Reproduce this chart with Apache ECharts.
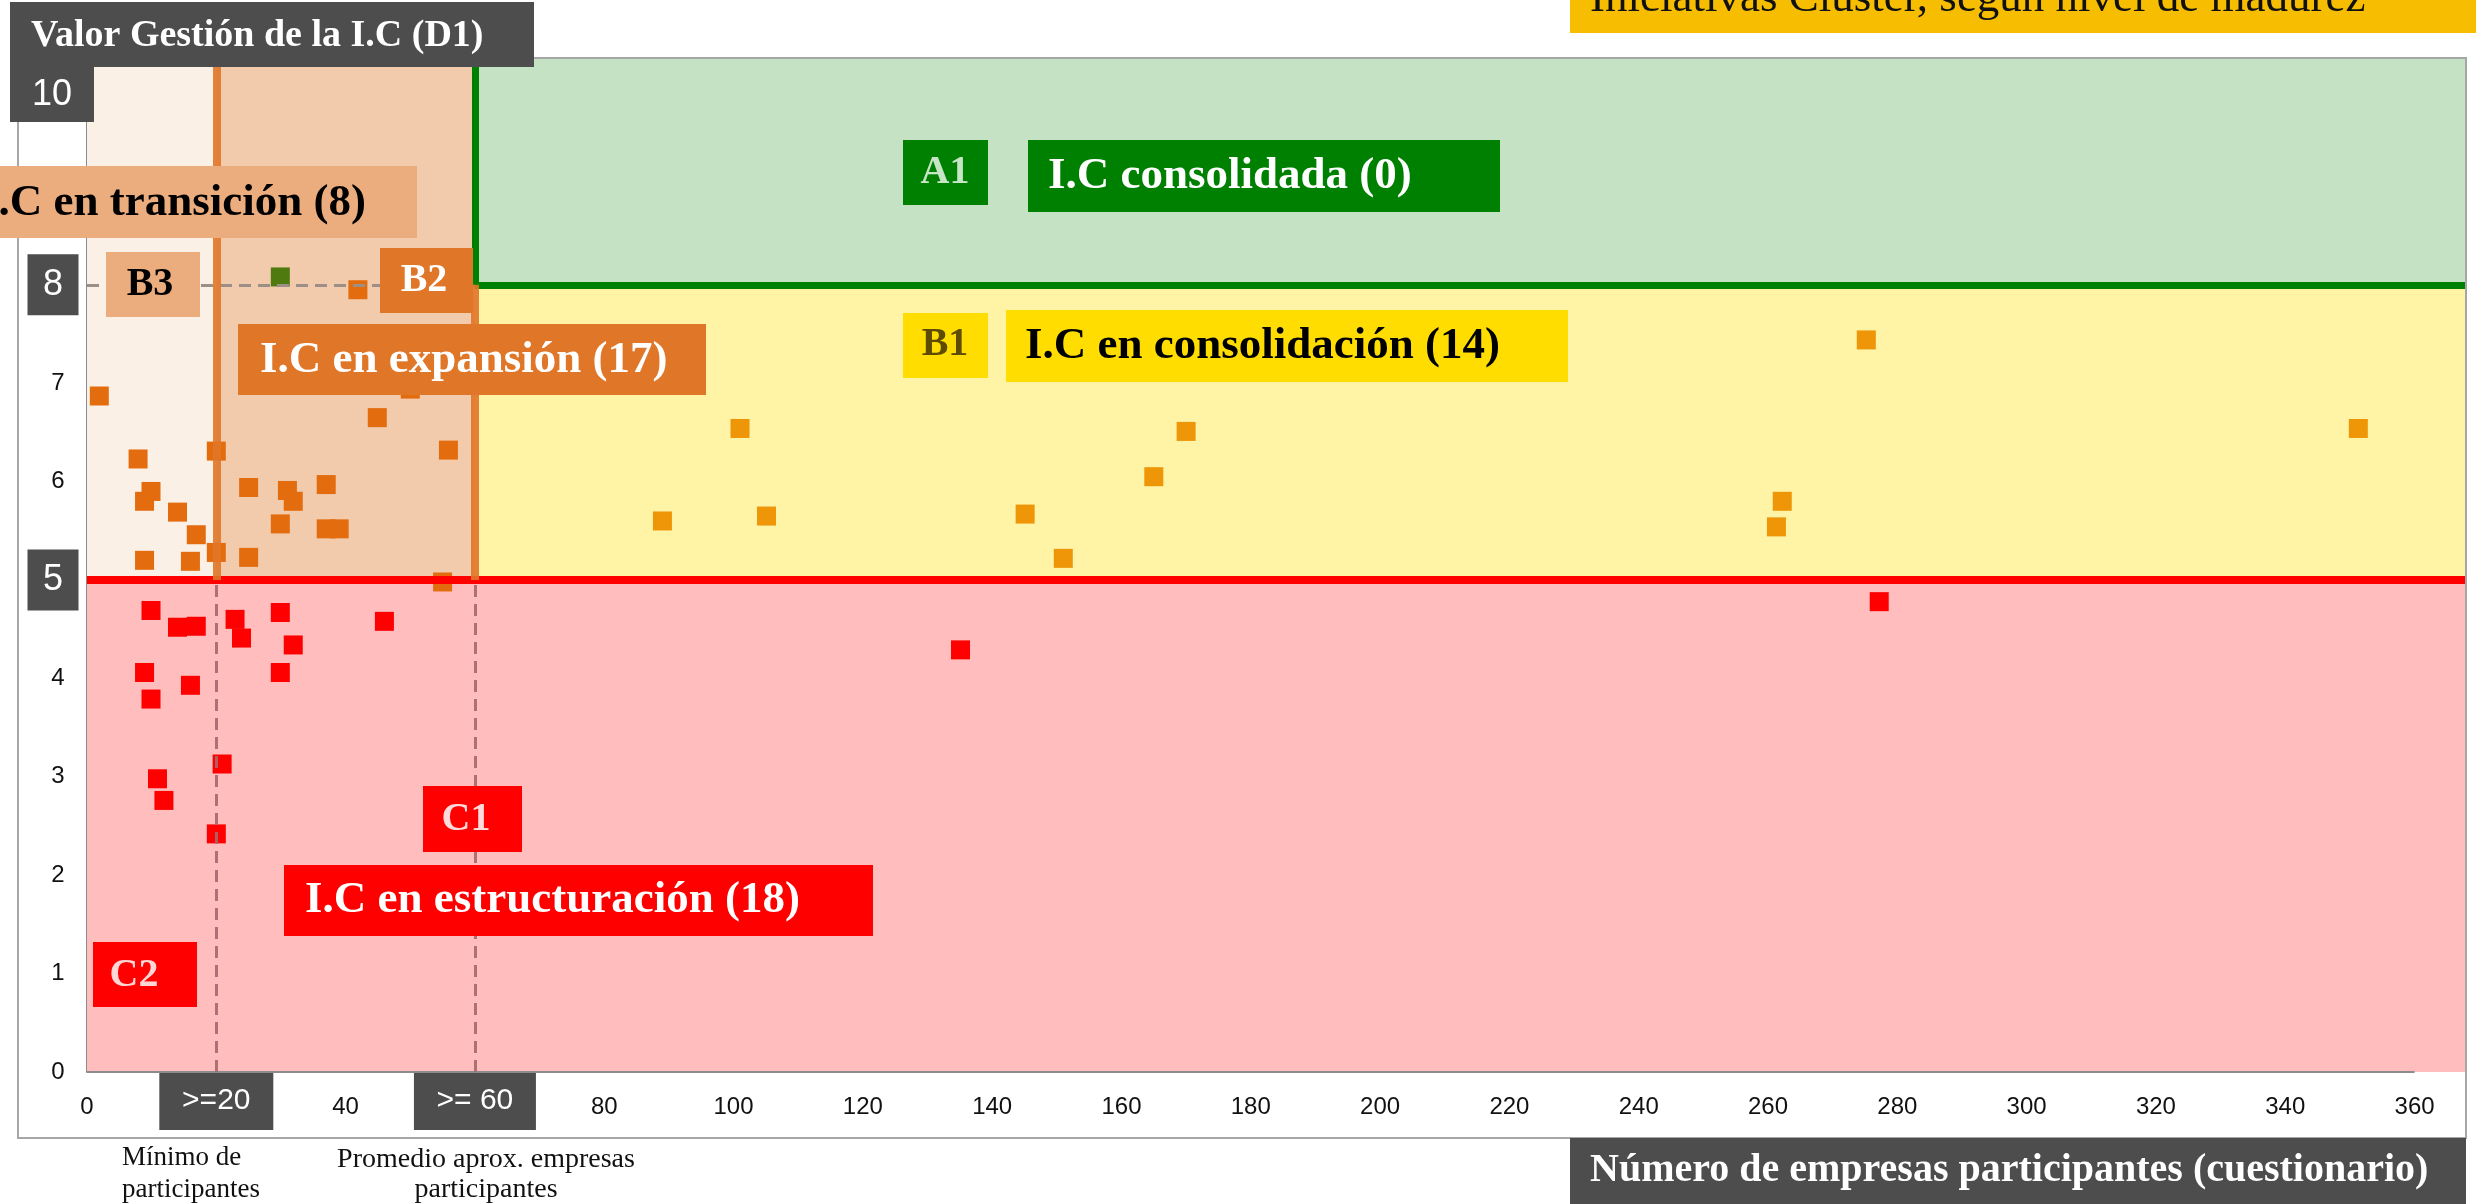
<!DOCTYPE html>
<html>
<head>
<meta charset="utf-8">
<script src="https://cdn.jsdelivr.net/npm/echarts@6.0.0/dist/echarts.min.js"></script>
<style>
  html, body { margin: 0; padding: 0; background: #fff; }
  #chart { width: 2476px; height: 1204px; }
</style>
</head>
<body>
<div id="chart"></div>
<script>
// axis extents (the coloured zones run a little past the last labels)
const xMax = 367.8
const yMax = 10.305
// thresholds
const minParticipants = 20
const avgParticipants = 60
const levelMid = 5
const levelHigh = 8

// I.C en transición (B3)
const b3Points = [[1.9, 6.87], [7.9, 6.23], [9.9, 5.90], [8.9, 5.80], [14.0, 5.69], [16.9, 5.46], [8.9, 5.20], [16.0, 5.19]]
// I.C en expansión (B2)
const b2Points = [[20.0, 6.31], [20.0, 5.28], [25.0, 5.94], [25.0, 5.23], [31.0, 5.91], [31.9, 5.80], [29.9, 5.57],
  [37.0, 5.97], [37.0, 5.52], [39.0, 5.52], [44.9, 6.65], [55.9, 6.32], [50.0, 6.94], [55.0, 4.98], [41.9, 7.95]]
const b2GreenPoints = [[29.9, 8.08]]
// I.C en consolidación (B1)
const b1Points = [[89.0, 5.60], [101.0, 6.54], [105.1, 5.65], [145.1, 5.67], [151.0, 5.22], [165.0, 6.05], [170.0, 6.51],
  [261.3, 5.54], [262.2, 5.80], [275.2, 7.44], [351.3, 6.54]]
// I.C en estructuración (C1 / C2)
const cPoints = [[9.9, 4.69], [14.0, 4.52], [16.9, 4.53], [22.9, 4.60], [23.9, 4.41], [29.9, 4.67], [31.9, 4.34], [46.0, 4.58],
  [8.9, 4.06], [16.0, 3.93], [9.9, 3.79], [29.9, 4.06], [20.9, 3.13], [10.9, 2.98], [11.9, 2.76], [20.0, 2.42],
  [135.1, 4.29], [277.2, 4.78]]

// tick labels drawn as dark boxes
const xBoxLabels = { 20: '>=20', 60: '>= 60' }
const yBoxLabels = [8, 5]

const SERIF = '"Liberation Serif", "DejaVu Serif", serif'
const SANS = '"Liberation Sans", Arial, sans-serif'
const DARK = '#4d4d4d'

function seg(p1, p2, style) {
  return [{ coord: p1, lineStyle: style }, { coord: p2 }]
}

function zone(x1, y1, x2, y2, color) {
  return [{ xAxis: x1, yAxis: y1, itemStyle: { color: color } }, { xAxis: x2, yAxis: y2 }]
}

function box(x, y, w, h, fill, text, color, tx, ty, size, align, font) {
  return [{
    type: 'rect', z: 20, silent: true,
    shape: { x: x, y: y, width: w, height: h },
    style: { fill: fill }
  }, {
    type: 'text', z: 21, silent: true,
    style: {
      text: text, x: tx, y: ty, fill: color,
      font: font || ('bold ' + size + 'px ' + SERIF),
      textAlign: align || 'center', verticalAlign: 'middle', textVerticalAlign: 'middle'
    }
  }]
}

function plainText(text, x, y, size, align, weight, color) {
  return {
    type: 'text', z: 21, silent: true,
    style: {
      text: text, x: x, y: y, fill: color || '#111',
      font: (weight || 'normal') + ' ' + size + 'px ' + SERIF,
      textAlign: align, verticalAlign: 'middle', textVerticalAlign: 'middle'
    }
  }
}

const graphics = [].concat(
  [{
    type: 'rect', z: 5, silent: true,
    shape: { x: 18, y: 58, width: 2448, height: 1080 },
    style: { fill: 'none', stroke: '#a6a6a6', lineWidth: 2 }
  }],
  box(10, 2, 524, 65, DARK, 'Valor Gestión de la I.C (D1)', '#fff', 31, 36, 38, 'left'),
  box(10, 67, 84, 55, DARK, '10', '#fff', 52, 95, 36, 'center', '36px ' + SANS),
  box(1570, 0, 906, 33, '#f7bd00', '', '#000', 0, 0, 10),
  [plainText('Iniciativas Cluster, según nivel de madurez', 1590, -1, 45, 'left')],
  box(1570, 1138, 896, 66, DARK, 'Número de empresas participantes (cuestionario)', '#fff', 1590, 1171, 40, 'left'),
  box(-10, 166, 427, 72, '#ebac7e', 'I.C en transición (8)', '#000', 366, 203, 45, 'right'),
  box(106, 252, 94, 65, '#ebac7e', 'B3', '#000', 150, 285, 40),
  box(380, 248, 93, 65, '#e07628', 'B2', '#fff', 424, 281, 40),
  box(238, 324, 468, 71, '#e07628', 'I.C en expansión (17)', '#fff', 260, 360, 45, 'left'),
  box(903, 140, 85, 65, '#008000', 'A1', '#c6e6c6', 945, 173, 40),
  box(1028, 140, 472, 72, '#008000', 'I.C consolidada (0)', '#fff', 1048, 176, 45, 'left'),
  box(903, 313, 85, 65, '#ffdd00', 'B1', '#5c4b00', 945, 345, 40),
  box(1006, 310, 562, 72, '#ffdd00', 'I.C en consolidación (14)', '#000', 1025, 346, 45, 'left'),
  box(423, 786, 99, 66, '#ff0000', 'C1', '#ffdada', 466, 820, 40),
  box(284, 865, 589, 71, '#ff0000', 'I.C en estructuración (18)', '#fff', 305, 900, 45, 'left'),
  box(93, 942, 104, 65, '#ff0000', 'C2', '#ffd6d6', 134, 976, 40),
  [
    plainText('Mínimo de', 122, 1158, 27, 'left'),
    plainText('participantes', 122, 1190, 27, 'left'),
    plainText('Promedio aprox. empresas', 486, 1160, 28, 'center'),
    plainText('participantes', 486, 1190, 28, 'center')
  ]
)

const chart = echarts.init(document.getElementById('chart'), null, { renderer: 'canvas' })

const option = {
  animation: false,
  backgroundColor: '#fff',
  grid: { left: 87, right: 11, top: 58, bottom: 132 },
  xAxis: {
    type: 'value', min: 0, max: xMax, interval: 20,
    axisLine: { show: false },
    axisTick: { show: false },
    splitLine: { show: false },
    axisLabel: {
      margin: 0,
      formatter: function (v) {
        if (v % 20 !== 0) return ''
        if (xBoxLabels[v]) return '{b' + v + '|' + xBoxLabels[v] + '}'
        return '{n|' + v + '}'
      },
      rich: {
        n: { fontFamily: SANS, fontSize: 24, lineHeight: 70, color: '#111' },
        b20: { fontFamily: SANS, fontSize: 30, color: '#fff', backgroundColor: DARK, width: 114, height: 58, lineHeight: 58, align: 'center' },
        b60: { fontFamily: SANS, fontSize: 30, color: '#fff', backgroundColor: DARK, width: 122, height: 58, lineHeight: 58, align: 'center' }
      }
    }
  },
  yAxis: {
    type: 'value', min: 0, max: yMax, interval: 1,
    axisLine: { show: true, lineStyle: { color: '#8c8c8c', width: 2 } },
    axisTick: { show: false },
    splitLine: { show: false },
    axisLabel: {
      align: 'center', margin: 34,
      formatter: function (v) {
        if (!Number.isInteger(v) || v === 10) return ''
        if (yBoxLabels.indexOf(v) >= 0) return '{b|' + v + '}'
        return '{n|' + v + '}'
      },
      rich: {
        n: { fontFamily: SANS, fontSize: 24, color: '#111', padding: [0, 0, 0, 10] },
        b: { fontFamily: SANS, fontSize: 36, color: '#fff', backgroundColor: DARK, width: 51, height: 61, lineHeight: 61, align: 'center' }
      }
    }
  },
  graphic: graphics,
  series: [
    {
      // zones
      type: 'scatter', data: [], z: 1, silent: true,
      markArea: {
        silent: true,
        label: { show: false },
        data: [
          zone(0, 0, xMax, levelMid, '#ffbdbd'),
          zone(avgParticipants, levelMid, xMax, levelHigh, '#fff3a6'),
          zone(avgParticipants, levelHigh, xMax, yMax, '#c5e2c5'),
          zone(0, levelMid, minParticipants, yMax, '#fbf0e6'),
          zone(minParticipants, levelMid, avgParticipants, yMax, '#f2caac')
        ]
      }
    },
    {
      // solid boundary lines under the markers
      type: 'scatter', data: [], z: 2, silent: true,
      markLine: {
        silent: true, symbol: ['none', 'none'], label: { show: false },
        data: [
          seg([0, 0], [360, 0], { color: '#8c8c8c', width: 2, type: 'solid' }),
          seg([0, levelHigh], [xMax, levelHigh], { color: '#9c8f88', width: 3, type: [12, 7] }),
          seg([0, levelMid], [xMax, levelMid], { color: '#ff0000', width: 8, type: 'solid' }),
          seg([avgParticipants, levelHigh], [xMax, levelHigh], { color: '#008000', width: 7, type: 'solid' }),
          seg([avgParticipants, levelHigh], [avgParticipants, yMax], { color: '#008000', width: 7, type: 'solid' })
        ]
      }
    },
    {
      name: 'B3', type: 'scatter', symbol: 'rect', symbolSize: 19, z: 3,
      itemStyle: { color: '#e36c0e', opacity: 1 }, data: b3Points
    },
    {
      name: 'B2', type: 'scatter', symbol: 'rect', symbolSize: 19, z: 3,
      itemStyle: { color: '#e36c0e', opacity: 1 }, data: b2Points
    },
    {
      name: 'B2 verde', type: 'scatter', symbol: 'rect', symbolSize: 19, z: 3,
      itemStyle: { color: '#4e7a10', opacity: 1 }, data: b2GreenPoints
    },
    {
      name: 'B1', type: 'scatter', symbol: 'rect', symbolSize: 19, z: 3,
      itemStyle: { color: '#ee9508', opacity: 1 }, data: b1Points
    },
    {
      name: 'C', type: 'scatter', symbol: 'rect', symbolSize: 19, z: 3,
      itemStyle: { color: '#ff0000', opacity: 1 }, data: cPoints
    },
    {
      // threshold lines drawn over the markers
      type: 'scatter', data: [], z: 4, silent: true,
      markLine: {
        silent: true, symbol: ['none', 'none'], label: { show: false },
        data: [
          seg([minParticipants, 0], [minParticipants, levelMid], { color: '#a5676c', width: 3, type: [12, 7], opacity: 0.9 }),
          seg([avgParticipants, 0], [avgParticipants, levelMid], { color: '#a5676c', width: 3, type: [12, 7], opacity: 0.9 }),
          seg([minParticipants, levelMid], [minParticipants, yMax], { color: '#e07628', width: 8, type: 'solid', opacity: 0.9 }),
          seg([avgParticipants, levelMid], [avgParticipants, levelHigh], { color: '#e07628', width: 8, type: 'solid', opacity: 0.9 })
        ]
      }
    }
  ]
}

chart.setOption(option)
</script>
</body>
</html>
